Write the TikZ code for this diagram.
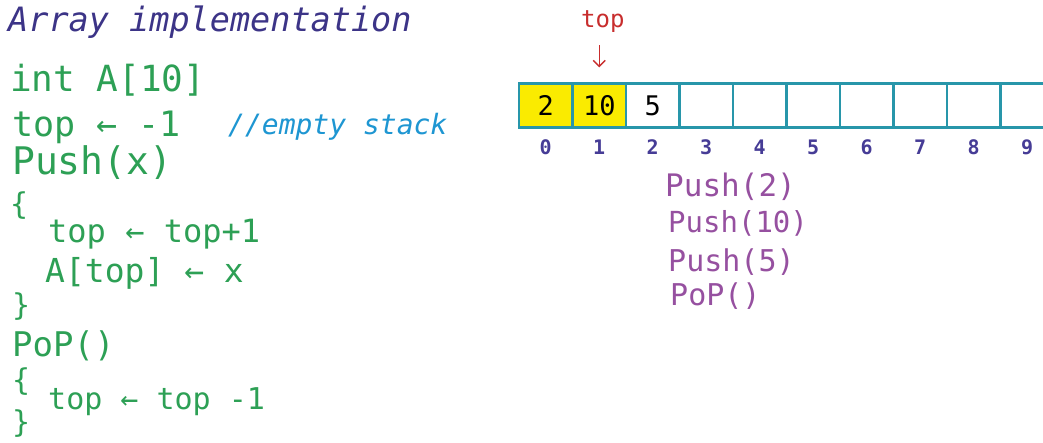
\documentclass[tikz,border=0pt]{standalone}
\usepackage{fontspec}
\usetikzlibrary{positioning,arrows.meta}
\setmonofont{DejaVu Sans Mono}
\definecolor{inkblue}{RGB}{60,52,135}
\definecolor{inkgreen}{RGB}{45,160,85}
\definecolor{inkcyan}{RGB}{30,150,210}
\definecolor{inkred}{RGB}{200,45,45}
\definecolor{inkpurple}{RGB}{150,80,160}
\definecolor{inkindex}{RGB}{70,60,150}
\definecolor{cellline}{RGB}{40,150,170}
\definecolor{cellfill}{RGB}{250,235,0}
\newcommand{\hand}[1]{\fontsize{#1}{#1}\selectfont\ttfamily}
\tikzset{
  txt/.style={anchor=west,inner sep=0pt},
  code/.style={txt,text=inkgreen,font=\hand{34}},
  brace/.style={txt,text=inkgreen,font=\hand{30}},
  call/.style={txt,text=inkpurple,font=\hand{31}},
  cell/.style={draw=cellline,line width=2.2pt,minimum width=53.5pt,minimum height=44pt,
    inner sep=0pt,font=\hand{27}},
  idx/.style={text=inkindex,font=\hand{20}\bfseries,inner sep=0pt},
}
\begin{document}
\begin{tikzpicture}[x=1pt,y=-1pt]
  \useasboundingbox[fill=white] (0,0) rectangle (1043,442);
  % pseudo code on the left
  \node[txt,text=inkblue,font=\hand{33.5}\itshape] (title) at (8,22) {Array implementation};
  \node[code,font=\hand{36}] (decl) at (10,80) {int A[10]};
  \node[code,font=\hand{35}] (init) at (12,127) {top ← -1};
  \node[txt,text=inkcyan,font=\hand{28}\itshape] (note) at (228,127) {//empty stack};
  \node[code,font=\hand{38}] (push) at (12,163) {Push(x)};
  \node[brace] (b1) at (10,206) {\{};
  \node[code,font=\hand{32}] (inc) at (48,234) {top ← top+1};
  \node[code,font=\hand{33}] (store) at (45,273) {A[top] ← x};
  \node[brace] (b2) at (12,307) {\}};
  \node[code] (pop) at (12,346) {PoP()};
  \node[brace] (b3) at (12,382) {\{};
  \node[code,font=\hand{30}] (dec) at (48,402) {top ← top -1};
  \node[brace] (b4) at (12,424) {\}};
  % the array A[0..9]
  \foreach \i/\v in {0/2,1/10,2/5,3/,4/,5/,6/,7/,8/,9/}{
    \node[cell] (c\i) at (519+53.5*\i+26.75,105.5) {\v};
    \node[idx,below=11pt of c\i] (i\i) {\i};
  }
  \foreach \i/\v in {0/2,1/10}
    \node[cell,fill=cellfill] at (c\i) {\v};
  % top marker
  \node[txt,text=inkred,font=\hand{24}] (toplbl) at (581,22) {top};
  \draw[inkred,line width=1.5pt,-{Straight Barb[length=6pt,width=12pt]},shorten >=15pt,shorten <=12pt]
    (toplbl.south west-|c1) -- (c1.north);
  % sequence of operations
  \node[call] (p1) at (665,187) {Push(2)};
  \node[call,font=\hand{29}] (p2) at (668,223) {Push(10)};
  \node[call,font=\hand{30}] (p3) at (668,262) {Push(5)};
  \node[call,font=\hand{30}] (p4) at (670,296) {PoP()};
\end{tikzpicture}
\end{document}
